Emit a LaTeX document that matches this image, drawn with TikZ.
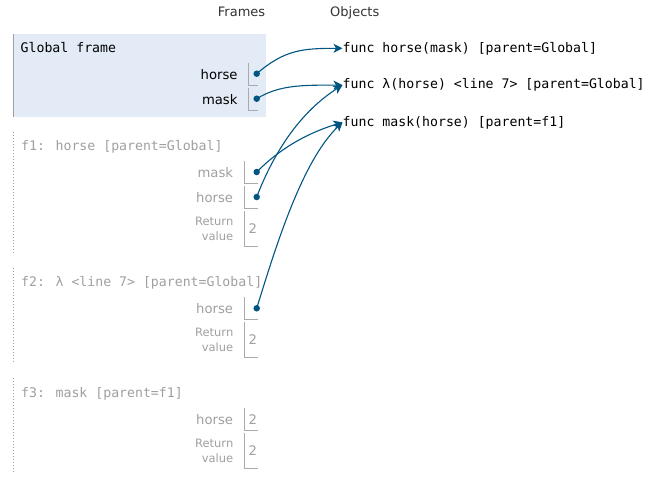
\documentclass[tikz,border=0pt]{standalone}
\usepackage{fontspec}
\setmainfont{DejaVu Sans}
\newfontfamily\monofont{DejaVu Sans Mono}
\usetikzlibrary{arrows.meta}
\definecolor{ptr}{HTML}{005583}
\definecolor{gbg}{HTML}{E2EBF6}
\definecolor{dim}{HTML}{A0A0A0}
\definecolor{boxln}{HTML}{AAAAAA}
\definecolor{hdrc}{HTML}{333333}
\begin{document}
\begin{tikzpicture}[x=1pt,y=-1pt,
  hdr/.style={font=\fontsize{13}{15}\selectfont, text=hdrc, inner sep=0, anchor=base west},
  mono/.style={font=\monofont\fontsize{13.2}{15}\selectfont, inner sep=0, anchor=base west},
  objtxt/.style={mono, text=black},
  vname/.style={font=\fontsize{13.2}{15}\selectfont, inner sep=0, anchor=base east},
  retname/.style={font=\fontsize{11.5}{15}\selectfont, inner sep=0, align=right, anchor=east, text=dim},
  val/.style={font=\fontsize{13.2}{15}\selectfont, inner sep=0, anchor=base west, text=dim},
  vbox/.style={draw=boxln, line width=1pt},
  dot/.style={circle, fill=ptr, minimum size=6.5pt, inner sep=0},
  arr/.style={draw=ptr, line width=1.1pt, -{Stealth[length=9pt,width=9pt,inset=2.5pt]}},
  dimframe/.style={draw=dim, line width=1pt, dotted},
]
\useasboundingbox[fill=white] (0,0) rectangle (659,493);

% headers
\node[hdr] (hframes) at (217.7,16) {Frames};
\node[hdr] (hobjects) at (330,16) {Objects};

% Global frame
\fill[gbg] (13.3,34) rectangle (265.7,116.7);
\draw[draw=dim, line width=1pt] (13.3,34) -- (13.3,116.7);
\node[mono, text=black] (gtitle) at (20.5,52) {Global frame};
\node[vname, text=black] (ghl) at (237.7,79) {horse};
\node[vname, text=black] (gml) at (237.7,104) {mask};
\draw[vbox] (248.3,62.7) |- (257.7,85);
\draw[vbox] (248.3,87.7) |- (257.7,110);
\node[dot] (gh) at (256.7,73.7) {};
\node[dot] (gm) at (256.7,98.7) {};

% f1
\draw[dimframe] (13.3,132) -- (13.3,252.5);
\node[mono, text=dim] (f1title) at (21,150.5) {f1: horse [parent=Global]};
\node[vname, text=dim] (f1ml) at (233.3,177) {mask};
\node[vname, text=dim] (f1hl) at (233.3,202) {horse};
\node[retname] (f1rl) at (233.5,228.5) {Return\\value};
\draw[vbox] (244.3,161) |- (257.7,183);
\draw[vbox] (244.3,186) |- (257.7,208);
\draw[vbox] (244.3,211) |- (257.7,246);
\node[dot] (fm) at (256.7,172) {};
\node[dot] (fh) at (256.7,197) {};
\node[val] (f1rv) at (248.5,233.5) {2};

% f2
\draw[dimframe] (13.3,268) -- (13.3,363.3);
\node[mono, text=dim] (f2title) at (21,286.5) {f2: λ <line 7> [parent=Global]};
\node[vname, text=dim] (f2hl) at (233.3,313.3) {horse};
\node[retname] (f2rl) at (233.5,339.8) {Return\\value};
\draw[vbox] (244.3,297) |- (257.7,319.3);
\draw[vbox] (244.3,322.3) |- (257.7,357.3);
\node[dot] (f2h) at (256.7,308.3) {};
\node[val] (f2rv) at (248.5,344.5) {2};

% f3
\draw[dimframe] (13.3,378.3) -- (13.3,474);
\node[mono, text=dim] (f3title) at (21,397.3) {f3: mask [parent=f1]};
\node[vname, text=dim] (f3hl) at (233.3,424.3) {horse};
\node[retname] (f3rl) at (233.5,450.5) {Return\\value};
\draw[vbox] (244.3,408.3) |- (257.7,430);
\draw[vbox] (244.3,432.7) |- (257.7,468.3);
\node[val] (f3hv) at (248.5,424.3) {2};
\node[val] (f3rv) at (248.5,455.5) {2};

% objects
\node[objtxt] (oh) at (342.5,52) {func horse(mask) [parent=Global]};
\node[objtxt] (ol) at (342.5,88.8) {func λ(horse) <line 7> [parent=Global]};
\node[objtxt] (om) at (342.5,126) {func mask(horse) [parent=f1]};

% pointers
\draw[arr] (gh.center) .. controls +(28,-24) and +(-40,0) .. (oh.west);
\draw[arr] (gm.center) .. controls +(23,-14) and +(-40,0) .. (ol.west);
\draw[arr] (fm.center) .. controls +(15,-15) and +(-46,14) .. (om.west);
\draw[arr] (fh.center) .. controls +(18,-47) and +(-41,26) .. (ol.west);
\draw[arr] (f2h.center) .. controls +(18,-58) and +(-41,39) .. (om.west);
\end{tikzpicture}
\end{document}
